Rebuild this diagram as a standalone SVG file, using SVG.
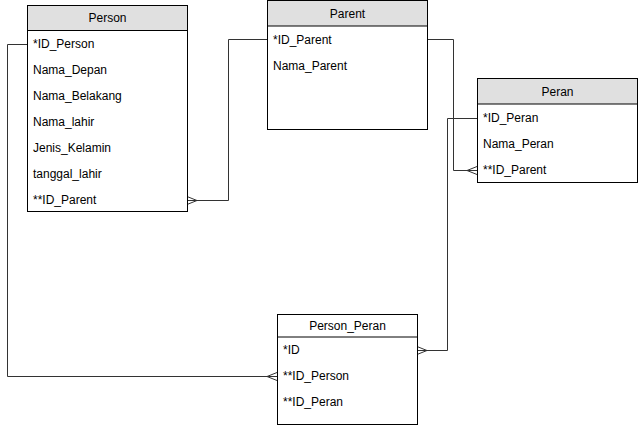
<svg xmlns="http://www.w3.org/2000/svg" width="638" height="425" viewBox="0 0 638 425">
<style>
.box{fill:#fff;stroke:#000;stroke-width:1}
.hdr{fill:#e0e0e0;stroke:#000;stroke-width:1}
.t{font-family:"Liberation Sans",Arial,sans-serif;font-size:12px;fill:#000}
.h{font-family:"Liberation Sans",Arial,sans-serif;font-size:12px;fill:#000;text-anchor:middle}
.c{fill:none;stroke:#333;stroke-width:1}
</style>
<rect width="638" height="425" fill="#fff"/>
<g id="connectors">
<path class="c" d="M27.5,44.5 H7.5 V376.5 H277"/>
<path class="c" d="M267,376.5 L277,372.5 M267,376.5 L277,380.5"/>
<path class="c" d="M267,39.5 H228.5 V200.5 H187"/>
<path class="c" d="M197,200.5 L187,196.5 M197,200.5 L187,204.5"/>
<path class="c" d="M427,39.5 H453.5 V170.5 H477"/>
<path class="c" d="M467,170.5 L477,166.5 M467,170.5 L477,174.5"/>
<path class="c" d="M477,118.5 H447.5 V350.5 H417"/>
<path class="c" d="M427,350.5 L417,346.5 M427,350.5 L417,354.5"/>
</g>
<g id="Person">
<rect class="box" x="27.5" y="5.5" width="160" height="206"/>
<rect class="hdr" x="27.5" y="5.5" width="160" height="25"/>
<text class="h" x="107.5" y="22">Person</text>
<text class="t" x="33" y="48">*ID_Person</text>
<text class="t" x="33" y="74">Nama_Depan</text>
<text class="t" x="33" y="100">Nama_Belakang</text>
<text class="t" x="33" y="126">Nama_lahir</text>
<text class="t" x="33" y="152">Jenis_Kelamin</text>
<text class="t" x="33" y="178">tanggal_lahir</text>
<text class="t" x="33" y="204">**ID_Parent</text>
</g>
<g id="Parent">
<rect class="box" x="267.5" y="0.5" width="160" height="129"/>
<rect class="hdr" x="267.5" y="0.5" width="160" height="25.5"/>
<text class="h" x="347.5" y="18">Parent</text>
<text class="t" x="273" y="44">*ID_Parent</text>
<text class="t" x="273" y="70">Nama_Parent</text>
</g>
<g id="Peran">
<rect class="box" x="477.5" y="78.5" width="160" height="104"/>
<rect class="hdr" x="477.5" y="78.5" width="160" height="25.5"/>
<text class="h" x="557.5" y="96">Peran</text>
<text class="t" x="483" y="122">*ID_Peran</text>
<text class="t" x="483" y="148">Nama_Peran</text>
<text class="t" x="483" y="174">**ID_Parent</text>
</g>
<g id="Person_Peran">
<rect class="box" x="277.5" y="314.5" width="140" height="110"/>
<line class="box" x1="277.5" y1="337" x2="417.5" y2="337"/>
<text class="h" x="347.5" y="330">Person_Peran</text>
<text class="t" x="283" y="354">*ID</text>
<text class="t" x="283" y="380">**ID_Person</text>
<text class="t" x="283" y="406">**ID_Peran</text>
</g>
</svg>
